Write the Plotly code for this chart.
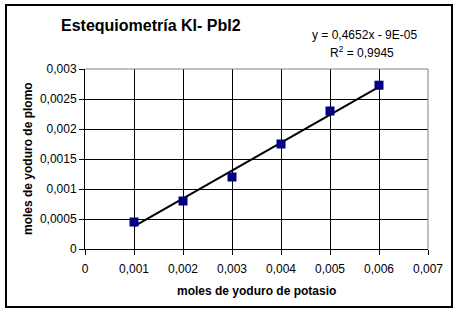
import plotly.graph_objects as go
import numpy as np

# Data
ki_moles = [0.001, 0.002, 0.003, 0.004, 0.005, 0.006]
pbi2_moles = [0.00045, 0.0008, 0.0012, 0.00175, 0.0023, 0.00273]
slope = 0.4652
intercept = -0.00009
r2 = 0.9945

x_tickvals = [0, 0.001, 0.002, 0.003, 0.004, 0.005, 0.006, 0.007]
x_ticktext = ["0", "0,001", "0,002", "0,003", "0,004", "0,005", "0,006", "0,007"]
y_tickvals = [0, 0.0005, 0.001, 0.0015, 0.002, 0.0025, 0.003]
y_ticktext = ["0", "0,0005", "0,001", "0,0015", "0,002", "0,0025", "0,003"]

title_text = "Estequiometría KI- PbI2"
x_title = "moles de yoduro de potasio"
y_title = "moles de yoduro de plomo"

FONT = "Liberation Sans, Arial, sans-serif"

trend_x = np.array([min(ki_moles), max(ki_moles)])
trend_y = slope * trend_x + intercept

fig = go.Figure()
fig.add_trace(go.Scatter(x=trend_x, y=trend_y, mode="lines",
                         line=dict(color="black", width=2), showlegend=False,
                         hoverinfo="skip"))
fig.add_trace(go.Scatter(x=ki_moles, y=pbi2_moles, mode="markers",
                         marker=dict(symbol="square", size=9, color="#000080",
                                     line=dict(width=0)),
                         showlegend=False))

axis_common = dict(showgrid=True, gridcolor="black", gridwidth=1,
                   zeroline=False, showline=True, linecolor="black", linewidth=1,
                   ticks="outside", ticklen=5, tickcolor="black", tickwidth=1,
                   tickfont=dict(family=FONT, size=12, color="black"),
                   tickmode="array")

fig.update_xaxes(range=[0, 0.007], tickvals=x_tickvals, ticktext=x_ticktext,
                 ticklabelstandoff=4, **axis_common)
fig.update_yaxes(range=[0, 0.003], tickvals=y_tickvals, ticktext=y_ticktext,
                 **axis_common)

W, H = 459, 314
L, R, T, B = 85, 31, 69, 65
pw, ph = W - L - R, H - T - B

def px_x(p):
    return (p - L) / pw

def px_y(p):
    return (H - B - p) / ph

shapes = [
    # gray top/right plot border
    dict(type="line", xref="paper", yref="paper", x0=0, x1=1, y0=1, y1=1,
         line=dict(color="#808080", width=1), layer="above"),
    dict(type="line", xref="paper", yref="paper", x0=1, x1=1, y0=0, y1=1,
         line=dict(color="#808080", width=1), layer="above"),
    # outer chart border
    dict(type="rect", xref="paper", yref="paper",
         x0=px_x(6), x1=px_x(452), y0=px_y(307), y1=px_y(5),
         line=dict(color="black", width=2), layer="below"),
]

annotations = [
    dict(text="<b>" + title_text + "</b>", xref="paper", yref="paper",
         x=px_x(151), y=px_y(25), showarrow=False,
         font=dict(family=FONT, size=16, color="black"),
         xanchor="center", yanchor="middle"),
    dict(text="y = 0,4652x - 9E-05", xref="paper", yref="paper",
         x=px_x(364), y=px_y(35), showarrow=False,
         font=dict(family=FONT, size=12, color="black"),
         xanchor="center", yanchor="middle"),
    dict(text="R<sup>2</sup> = 0,9945", xref="paper", yref="paper",
         x=px_x(362), y=px_y(52), showarrow=False,
         font=dict(family=FONT, size=12, color="black"),
         xanchor="center", yanchor="middle"),
    dict(text="<b>" + x_title + "</b>", xref="paper", yref="paper",
         x=px_x(256), y=px_y(291), showarrow=False,
         font=dict(family=FONT, size=12, color="black"),
         xanchor="center", yanchor="middle"),
    dict(text="<b>" + y_title + "</b>", xref="paper", yref="paper",
         x=px_x(28), y=px_y(159), showarrow=False, textangle=-90,
         font=dict(family=FONT, size=12, color="black"),
         xanchor="center", yanchor="middle"),
]

fig.update_layout(width=W, height=H, margin=dict(l=L, r=R, t=T, b=B),
                  paper_bgcolor="white", plot_bgcolor="white",
                  shapes=shapes, annotations=annotations,
                  font=dict(family=FONT, color="black"))

fig.write_html("out.html", config={"displayModeBar": False})
